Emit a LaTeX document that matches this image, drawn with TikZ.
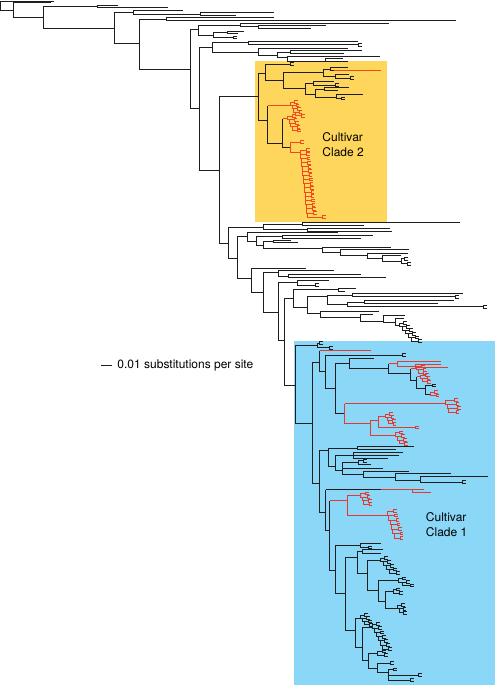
\documentclass[tikz,border=0pt]{standalone}
\usepackage{fontspec}
\setmainfont{TeX Gyre Heros}
\definecolor{tdark}{HTML}{1E1E1E}
\definecolor{tred}{HTML}{E23A2E}
\definecolor{ored}{HTML}{F04A1E}
\definecolor{yelbox}{HTML}{FFD65C}
\definecolor{blubox}{HTML}{8BD7F8}
\newcommand\tBr[5]{\draw (#3,#2) -| (#1,#4) -- (#5,#4);}
\newcommand\tCc[2]{\draw ({#1+3},{#2-1.4}) -| ({#1},{#2+1.4}) -- ({#1+3},{#2+1.4});}
\newcommand\tLad[6]{\foreach \i in {1,...,#3}{%
  \draw ({#1+(\i-1)*#4+#6},{#2+(\i-1)*#5}) -- ({#1+(\i-1)*#4},{#2+(\i-1)*#5}) -- ({#1+(\i-1)*#4},{#2+\i*#5}) -- ({#1+\i*#4},{#2+\i*#5});
  \tCc{#1+(\i-1)*#4+#6}{#2+(\i-1)*#5}}}
\newcommand\tEnd[3]{\draw ({#1},{#2}) -- ({#1+#3},{#2}); \tCc{#1+#3}{#2}}
\tikzset{cladelabel/.style={anchor=north west, align=left, inner sep=0pt, font=\fontsize{12}{15}\selectfont, text=black}}
\begin{document}
\begin{tikzpicture}[x=1pt,y=-1pt,line width=0.95pt,color=tdark]
\useasboundingbox (0,0) rectangle (495,685);
\fill[yelbox] (255,61.5) rectangle (386.5,221.5);
\fill[blubox] (293.5,341) rectangle (495,685);
\begin{scope}[shift={(0.5,0)}]
% ---------- top of tree
\tBr{0}{1}{53}{10}{13}
\tBr{13}{2.7}{50}{17}{43}
\tBr{43}{6.8}{97}{28.3}{114}
\tBr{97}{5.6}{117}{7.6}{167}
\tBr{114}{12.4}{133}{43.3}{139}
\tBr{133}{10.6}{182}{14.3}{200}
\tBr{200}{12.7}{273}{15.8}{235}
\tBr{139}{19}{166}{69}{190}
\tBr{166}{17.6}{273}{20.7}{455}
\tBr{190}{29}{198}{108}{199}
\tBr{198}{25}{240}{35}{213}
\tBr{240}{23.2}{388}{26.6}{258}
\tBr{258}{25.2}{325}{28}{310}
\tBr{213}{32.2}{227}{37.4}{233} \tCc{233}{37.4}
\tBr{227}{31.2}{243}{33.2}{237}
\tBr{199}{47}{212}{170}{219}
\tBr{212}{42.5}{248}{52}{258}
\tBr{248}{41.8}{357}{44.8}{358} \tCc{358}{44.8}
\tBr{258}{48.3}{347}{55}{277}
\tBr{277}{52}{290}{57.5}{287}
\tBr{290}{50.6}{361}{53.3}{343}
\tBr{287}{56}{379}{61}{325}
\tBr{325}{58.8}{342}{61.6}{347}
\tBr{219}{96.7}{258}{243}{228}
% ---------- cultivar clade 2
\tBr{258}{73}{265}{120}{267}
\tBr{265}{64}{290}{80}{283} \tCc{290}{64}
\tBr{283}{72}{323}{88}{305}
\tBr{323}{69}{330}{76.5}{335}
\draw (347,67.5) -| (330,70.5) -- (333,70.5);
\draw[ored] (333,70.5) -- (380,70.5);
\tBr{335}{74.5}{348}{78}{350} \tCc{350}{78}
\tBr{305}{83}{313}{94}{315}
\tBr{313}{81.5}{333}{85}{335} \tCc{335}{85}
\tBr{315}{89}{324}{97}{336}
\tBr{324}{87.5}{348}{90.5}{337}
\tBr{336}{94}{362}{98.5}{341} \tCc{341}{98.5}
\draw (267,105.5) -- (267,143) -- (282,143);
\draw (282,118.5) -- (282,147) -- (290,147);
\begin{scope}[color=ored]
\draw (267,105.5) -- (290,105.5);
\tLad{290}{102}{4}{1.5}{3.4}{4} \tEnd{296}{115.6}{5}
\draw (282,118.5) -- (287,118.5);
\tLad{287}{116}{4}{1.6}{3.6}{5} \tEnd{293.4}{130.4}{4}
\draw (300,142) -| (290,152) -- (300,152); \tCc{300}{142}
\tLad{300}{150}{15}{0.45}{4.2}{6}
\draw (313,213) -| (306.75,217) -- (322,217); \tCc{313}{213} \tCc{322}{217}
\end{scope}
% ---------- middle part
\tBr{228}{227}{263}{258}{237}
\tBr{263}{224}{302}{229.5}{307}
\tBr{302}{222.4}{459}{225}{363}
\tBr{307}{228.2}{389}{231}{391}
\tBr{237}{236.7}{247}{278.3}{251}
\tBr{247}{232.7}{337}{241.7}{256}
\tBr{256}{236.7}{282}{245}{263}
\tBr{282}{235.5}{372}{238.8}{360}
\tBr{263}{241.2}{273}{248.3}{322}
\tBr{273}{240.4}{290}{242.6}{297}
\tBr{322}{247}{390}{252}{340}
\tBr{340}{249.6}{408}{255}{367}
\tBr{367}{253}{407}{258}{382}
\tBr{382}{255.8}{400}{261}{401}
\draw (404,258.6) -| (401,263.6) -- (407,263.6); \tCc{404}{258.6} \tCc{407}{263.6}
\tBr{251}{268}{305}{292}{263}
\tBr{263}{272}{278}{312}{278}
\tBr{278}{270}{333}{276}{288}
\tBr{288}{274.5}{360}{277.6}{385}
\tBr{278}{282}{297}{340}{284}
\tBr{297}{280.7}{328}{285}{315} \tCc{315}{285}
\tBr{284}{298}{293}{385}{295}
\tBr{293}{289.5}{338}{307}{307}
\tBr{338}{288.2}{355}{291}{344}
\tBr{307}{296}{327}{313}{320}
\tBr{327}{295}{352}{304}{347}
\tBr{352}{293.3}{462}{296.7}{455} \tCc{455}{296.7}
\tBr{347}{302}{364}{306.8}{483} \tCc{483}{306.8}
\tBr{364}{300.8}{453}{303.3}{437}
\tBr{320}{311.7}{378}{317}{360}
\tBr{360}{314.5}{372}{321}{383}
\tBr{383}{315.8}{404}{322}{395}
\tBr{395}{318.6}{403}{325}{399}
\tLad{399}{323}{5}{3}{3.6}{4} \tEnd{414}{341}{4}
% ---------- cultivar clade 1
\tBr{295}{345}{317}{423}{312}
\tBr{317}{343.3}{319}{347.8}{329} \tCc{319}{343.3} \tCc{329}{347.8}
\tBr{312}{362}{319}{483}{319}
\draw (319,350.5) -- (319,371.7) -- (325,371.7);
\draw[tred] (319,350.5) -- (370,350.5);
\tBr{325}{355}{402}{388.3}{335} \tCc{402}{355}
\tBr{335}{363.3}{349}{413.3}{344}
\tBr{349}{358.3}{373}{368.3}{388}
\draw (388,363.5) -- (388,373) -- (410,373);
\begin{scope}[color=tred]
\draw (388,363.5) -- (397,363.5);
\tBr{397}{361.5}{440}{366}{415}
\tBr{415}{364.3}{440}{367.5}{447}
\end{scope}
\draw (410,368.5) -- (410,380) -- (416,380);
\draw (416,376.5) -- (416,388) -- (425,388);
\draw (432,385.5) -| (425,394) -- (430,394); \tCc{432}{385.5}
\begin{scope}[color=tred]
\draw (410,368.5) -- (416,368.5);
\tLad{416}{366.5}{2}{1.5}{3.4}{5} \tEnd{419}{373.3}{4}
\draw (416,376.5) -- (420,376.5);
\tLad{420}{375}{2}{1.5}{3.3}{5} \tEnd{423}{381.6}{4}
\tLad{430}{392}{1}{1.5}{3.4}{4} \tEnd{431.5}{395.4}{4}
\draw (344,403.5) -- (344,423.5) -- (370,423.5);
\draw (344,403.5) -- (445,403.5);
\tLad{445}{400}{3}{1.5}{4}{9} \tEnd{449.5}{412}{6}
\tBr{370}{420}{378}{435.5}{395}
\tBr{378}{416}{385}{427.5}{415} \tCc{415}{427.5}
\tLad{385}{414}{3}{1.5}{3.3}{4} \tEnd{389.5}{423.9}{3}
\tLad{395}{432.5}{3}{2}{3.8}{4} \tEnd{401}{443.9}{3}
\end{scope}
\tBr{319}{450}{328}{512}{325}
\tBr{328}{448}{357}{466}{335}
\tBr{357}{446.5}{413}{449.6}{395}
\tBr{335}{455.3}{353}{470}{342}
\draw (402,452) -| (353,458.5) -- (387,458.5); \draw (353,455.3) -- (398,455.3);
\tBr{342}{462.5}{358}{474}{363}
\draw (342,468) -- (382,468);
\tBr{358}{460.8}{363}{464.3}{370} \tCc{363}{460.8}
\tBr{363}{471}{408}{477}{395}
\tBr{395}{473.2}{450}{480}{420}
\tBr{420}{476.8}{487}{482}{462} \tCc{462}{482}
\draw (325,489.5) -- (325,530) -- (329,530);
\draw (325,489.5) -- (380,489.5);
\draw (329,500.5) -- (329,570) -- (335,570);
\begin{scope}[color=tred]
\draw (380,489.5) -- (423,489.5);
\draw (412,489.5) -- (412,492) -- (430,492);
\draw (329,500.5) -- (347,500.5);
\draw (360,495.5) -| (347,515.5) -- (387,515.5);
\tLad{360}{493.5}{3}{1.5}{3.6}{5} \tEnd{364.5}{504.3}{4}
\tLad{387}{511}{6}{1.3}{4.5}{6} \tEnd{394.8}{538}{5}
\end{scope}
\tBr{335}{545}{360}{593}{345}
\tBr{360}{543.3}{380}{547.5}{368} \tCc{368}{547.5}
\tBr{345}{557}{357}{630}{355}
\tBr{357}{551}{362}{573}{367}
\tBr{362}{549.5}{382}{553.5}{380}
\tBr{367}{560}{380}{590}{378}
\tLad{380}{558}{4}{3}{3.8}{4} \tEnd{392}{573.2}{4}
\tBr{378}{580}{398}{601}{385}
\tLad{398}{578.5}{2}{4}{3.5}{4} \tEnd{406}{585.5}{4}
\tBr{385}{591}{393}{608}{397}
\tLad{393}{589.5}{1}{3}{3.5}{3} \tEnd{396}{593}{3}
\tLad{397}{605}{2}{1.5}{3.8}{4} \tEnd{400}{612.6}{3}
\tBr{355}{618}{360}{647}{362}
\tLad{360}{615}{3}{2}{3.2}{4} \tEnd{366}{624.6}{3}
\tBr{362}{627}{372}{660}{368}
\tLad{372}{624}{6}{2}{4.2}{4} \tEnd{384}{649.2}{4}
\tBr{368}{653}{377}{668}{377}
\tBr{377}{651.5}{382}{655}{384} \tCc{382}{651.5} \tCc{384}{655}
\tBr{377}{663}{390}{672}{388} \tCc{390}{663}
\draw (393,669.5) -| (388,680) -- (410,680); \draw (388,675) -- (418,675);
\tCc{393}{669.5} \tCc{418}{675} \tCc{410}{680}
\end{scope}
% ---------- labels
\node[cladelabel] (clade2) at (322,132.5) {Cultivar\\Clade 2};
\node[cladelabel] (clade1) at (425.5,512) {Cultivar\\Clade 1};
\coordinate (sbL) at (101,365.5);
\coordinate (sbR) at (112,365.5);
\draw[line width=0.8pt] (sbL) -- (sbR);
\node[anchor=base west, inner sep=0pt, font=\fontsize{12}{14}\selectfont, text=black] (scaletxt) at (117,368.5) {0.01 substitutions per site};
\end{tikzpicture}
\end{document}
